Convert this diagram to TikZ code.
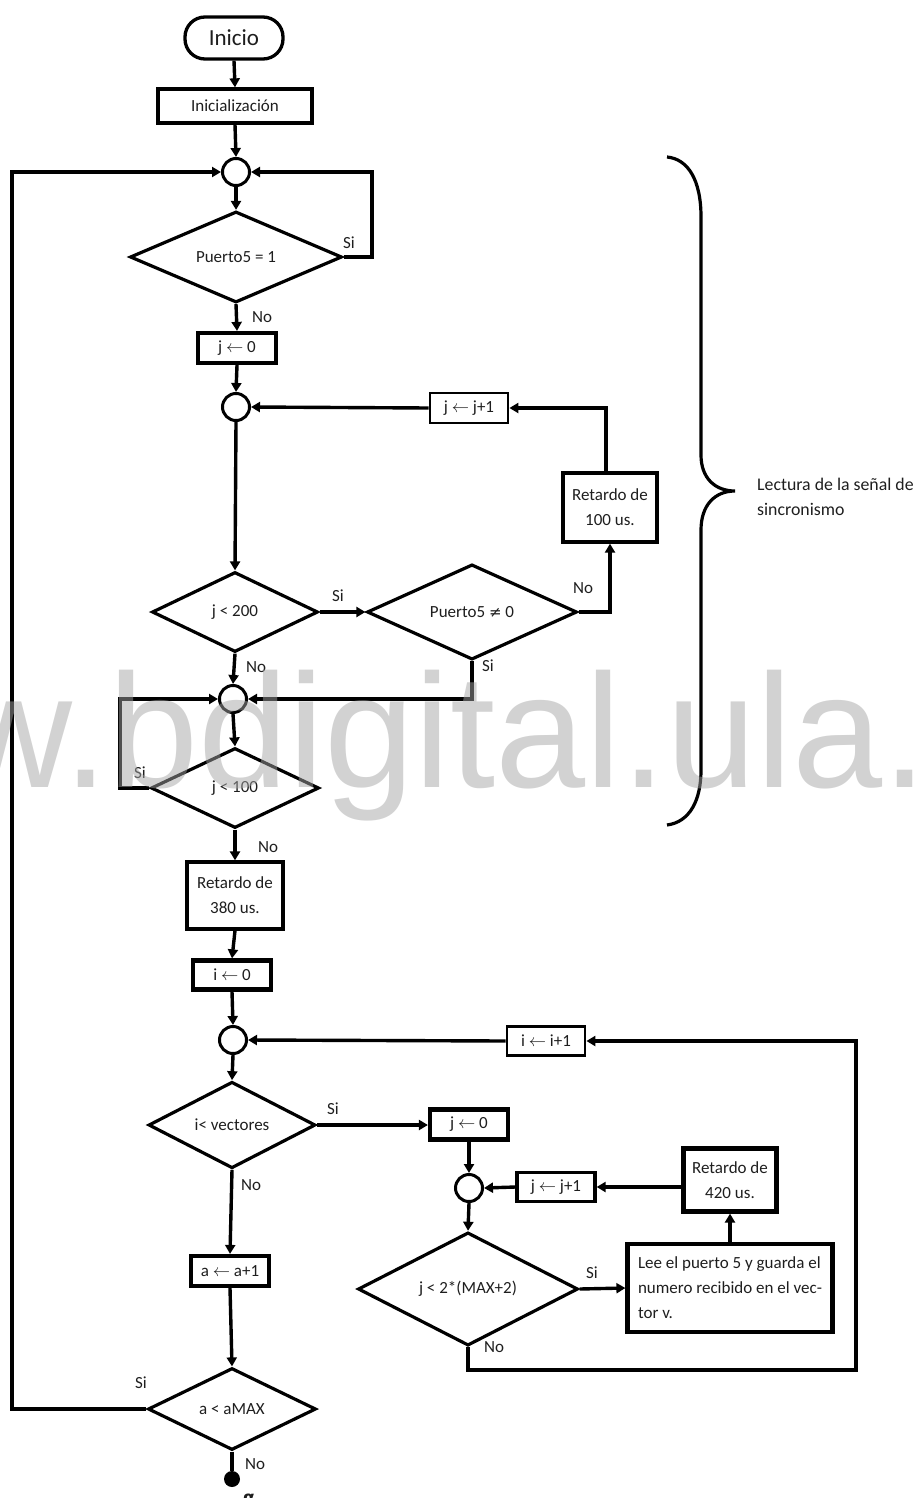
\documentclass[tikz,border=0pt]{standalone}
\usepackage{fontspec}
\setmainfont{Carlito}
\newfontfamily\wmfont{Liberation Sans}
\newfontfamily\symfont{DejaVu Sans}
\usetikzlibrary{shapes.geometric,arrows.meta}
\definecolor{wmgray}{RGB}{164,164,164}
\definecolor{txt}{RGB}{30,30,30}
\begin{document}
\begin{tikzpicture}[x=1pt,y=-1pt,
  every node/.style={font=\fontsize{17}{25}\selectfont, text=txt},
  box/.style={draw, rectangle, line width=3.3pt, inner sep=0pt, align=center},
  tbox/.style={box, line width=4.2pt},
  dec/.style={draw, diamond, line width=3.2pt, inner sep=0pt},
  junc/.style={draw, circle, line width=3pt, minimum size=27pt, inner sep=0pt},
  lbl/.style={inner sep=0pt},
  flow/.style={line width=3.4pt, -{Triangle[length=9pt,width=10pt]}},
  plain/.style={line width=3.4pt},
]
\useasboundingbox (0,0) rectangle (922,1498);

% nodes
\node[box, rounded corners=20pt, minimum width=98pt, minimum height=42pt, font=\fontsize{23}{27}\selectfont] (ini) at (234,38) {Inicio};
\node[box, minimum width=154pt, minimum height=34pt] (init) at (235,106) {Inicialización};
\node[junc] (c1) at (236,172) {};
\node[dec, minimum width=212pt, minimum height=81pt] (d1) at (236,257) {Puerto5 = 1};
\node[tbox, minimum width=78pt, minimum height=30pt] (j0) at (237,348) {j $\leftarrow$ 0};
\node[junc] (c2) at (236,407) {};
\node[box, line width=2.8pt, minimum width=78pt, minimum height=30pt] (jj1) at (469,408) {j $\leftarrow$ j+1};
\node[box, minimum width=94pt, minimum height=69pt] (r100) at (610,507.5) {Retardo de\\100 us.};
\node[dec, minimum width=166pt, minimum height=80pt] (d2) at (235,612) {j < 200};
\node[dec, minimum width=210pt, minimum height=81pt] (d3) at (472,612) {Puerto5 {\symfont\fontsize{15}{20}\selectfont ≠} 0};
\node[junc] (c3) at (233,699) {};
\node[dec, minimum width=168pt, minimum height=80pt] (d4) at (235,788) {j < 100};
\node[box, minimum width=96pt, minimum height=67pt] (r380) at (235,895.5) {Retardo de\\380 us.};
\node[tbox, minimum width=78pt, minimum height=29pt] (i0) at (232,975) {i $\leftarrow$ 0};
\node[junc] (c4) at (233,1040) {};
\node[box, line width=2.8pt, minimum width=78pt, minimum height=29pt] (ii) at (546,1041) {i $\leftarrow$ i+1};
\node[dec, minimum width=167pt, minimum height=81pt] (d5) at (232,1125) {i< vectores};
\node[tbox, minimum width=78pt, minimum height=30pt] (j02) at (469,1124.5) {j $\leftarrow$ 0};
\node[junc] (c5) at (469,1188) {};
\node[box, minimum width=78pt, minimum height=29pt] (jj2) at (556,1187) {j $\leftarrow$ j+1};
\node[tbox, minimum width=93pt, minimum height=63pt] (r420) at (730,1180) {Retardo de\\420 us.};
\node[tbox, minimum width=205pt, minimum height=88pt, align=left] (lee) at (730,1288) {Lee el puerto 5 y guarda el\\numero recibido en el vec-\\tor v.};
\node[dec, minimum width=220pt, minimum height=80pt] (d6) at (468,1289) {j < 2*(MAX+2)};
\node[tbox, minimum width=78pt, minimum height=30pt] (aa) at (230,1271) {a $\leftarrow$ a+1};
\node[dec, minimum width=168pt, minimum height=82pt] (d7) at (232,1409) {a < aMAX};
\node[circle, fill=black, minimum size=16pt, inner sep=0pt] (dot) at (232,1479) {};
\node[anchor=north, inner sep=0pt, font=\symfont\bfseries\fontsize{17}{20}\selectfont] (alpha) at (249,1494) {α};

\coordinate (rloop) at (372,172);
\coordinate (lloop) at (120,788);
\coordinate (bigl) at (12,172);
\coordinate (bigr) at (856,1370);

% connectors
\draw[flow] (ini.south) -- (init.north);
\draw[flow] (init.south) -- (c1.north);
\draw[flow] (c1.south) -- (d1.north);
\draw[flow] (d1.east) -| (rloop) -- (c1.east);
\draw[flow] (d1.south) -- (j0.north);
\draw[flow] (j0.south) -- (c2.north);
\draw[flow] (c2.south) -- (d2.north);
\draw[flow] (d2.east) -- (d3.west);
\draw[flow] (d3.east) -| (r100.south);
\draw[flow] ([xshift=-4pt]r100.north) |- (jj1.east);
\draw[flow] (jj1.west) -- (c2.east);
\draw[flow] (d2.south) -- (c3.north);
\draw[flow] (d3.south) |- (c3.east);
\draw[flow] (c3.south) -- (d4.north);
\draw[flow] (d4.west) -- (lloop) |- (c3.west);
\draw[flow] (d4.south) -- (r380.north);
\draw[flow] (r380.south) -- (i0.north);
\draw[flow] (i0.south) -- (c4.north);
\draw[flow] (c4.south) -- (d5.north);
\draw[flow] (d5.east) -- (d5.east -| j02.west);
\draw[flow] (j02.south) -- (c5.north);
\draw[flow] (c5.south) -- (d6.north);
\draw[flow] (d6.east) -- (lee.west);
\draw[flow] (lee.north) -- (r420.south);
\draw[flow] (r420.west |- jj2.east) -- (jj2.east);
\draw[flow] (jj2.west) -- (c5.east);
\draw[flow] (d6.south) |- (bigr) |- (ii.east);
\draw[flow] (ii.west) -- (c4.east);
\draw[flow] (d5.south) -- (aa.north);
\draw[flow] (aa.south) -- (d7.north);
\draw[flow] (d7.west) -- (d7.west -| bigl) |- (c1.west);
\draw[plain] (d7.south) -- (dot.north);

% labels
\node[lbl] (si1) at (349,243) {Si};
\node[lbl] (no1) at (262,317) {No};
\node[lbl] (si2) at (338,596) {Si};
\node[lbl] (no2) at (583,588) {No};
\node[lbl] (no3) at (256,667) {No};
\node[lbl] (si3) at (488,666) {Si};
\node[lbl] (si4) at (140,773) {Si};
\node[lbl] (no4) at (268,847) {No};
\node[lbl] (si5) at (333,1109) {Si};
\node[lbl] (no5) at (251,1185) {No};
\node[lbl] (si6) at (592,1273) {Si};
\node[lbl] (no6) at (494,1347) {No};
\node[lbl] (si7) at (141,1383) {Si};
\node[lbl] (no7) at (255,1464) {No};

% brace
\draw[line width=3.2pt] (667,157) .. controls (688,159) and (701,180) .. (701,217)
  -- (701,455) .. controls (701,478) and (715,491) .. (735,491)
  .. controls (715,491) and (701,505) .. (701,530)
  -- (701,770) .. controls (701,800) and (690,822) .. (667,825);
\node[anchor=west, align=left, inner sep=0pt, font=\fontsize{17.8}{25}\selectfont] (brl) at (757,497) {Lectura de la señal de\\sincronismo};

% watermark
\begin{scope}
\clip (0,0) rectangle (922,1498);
\node[anchor=base west, inner sep=0pt, font=\wmfont\fontsize{162}{162}\selectfont, text=wmgray, text opacity=0.49] (wm) at (-279,787) {www.bdigital.ula.ve};
\end{scope}
\end{tikzpicture}
\end{document}
